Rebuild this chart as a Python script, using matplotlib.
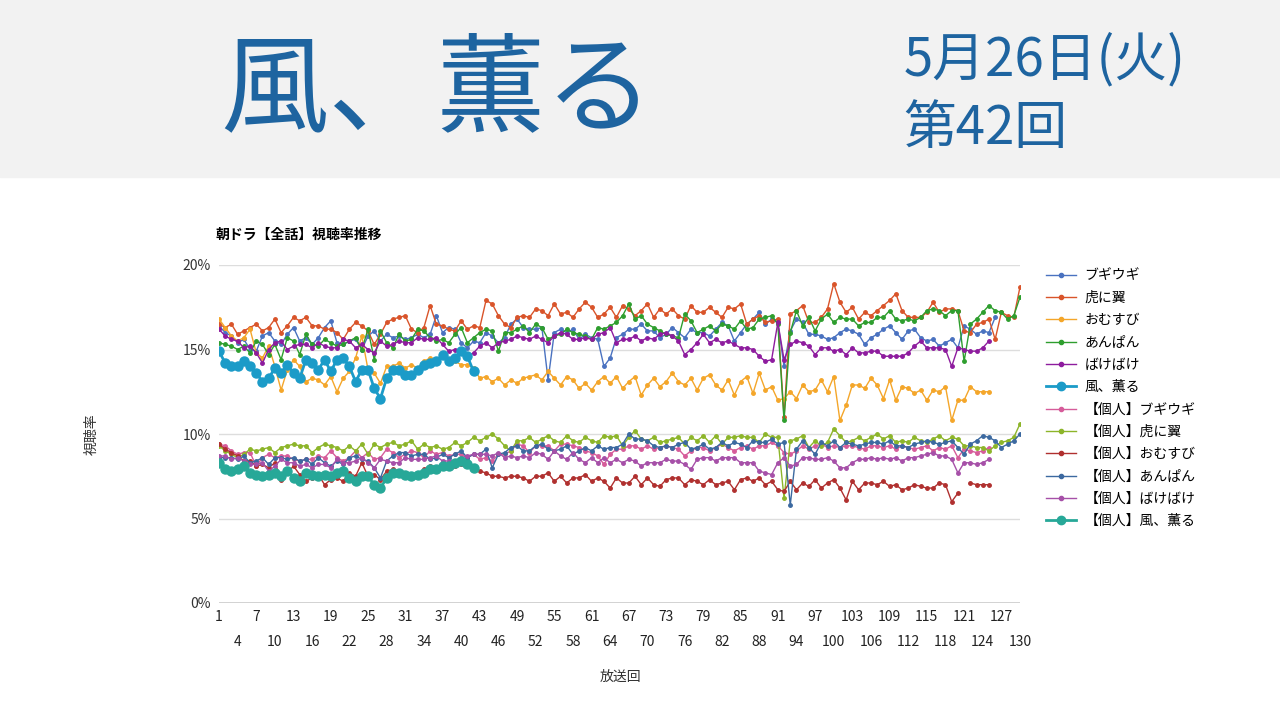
import matplotlib
matplotlib.use("Agg")
import matplotlib.pyplot as plt
import numpy as np
from matplotlib.lines import Line2D

plt.rcParams['font.family'] = ['Noto Sans CJK JP', 'DejaVu Sans']
nan = np.nan

tora = [16.5,16.3,16.5,15.9,16.1,16.3,16.5,16.1,16.3,16.8,
16.0,16.4,16.9,16.7,16.9,16.4,16.4,16.2,16.2,16.0,
15.6,16.2,16.6,16.4,16.1,15.3,15.9,16.6,16.8,16.9,
17.0,16.2,16.0,16.3,17.6,16.5,16.4,16.2,16.1,16.7,
16.2,16.4,16.3,17.9,17.7,17.0,16.5,16.3,16.9,17.0,
16.9,17.4,17.3,17.0,17.7,17.1,17.2,16.9,17.4,17.8,
17.5,16.9,17.1,17.5,16.9,17.6,17.4,17.0,17.3,17.7,
16.9,17.4,17.1,17.4,17.0,16.8,17.6,17.2,17.2,17.5,
17.2,16.9,17.5,17.4,17.7,16.5,16.8,17.0,16.6,16.7,
16.8,11.0,17.1,17.3,17.6,16.6,16.6,16.9,17.4,18.9,
17.8,17.2,17.5,16.8,17.2,17.0,17.3,17.6,17.9,18.3,
17.3,16.9,16.9,16.9,17.2,17.8,17.2,17.4,17.4,17.3,
16.1,16.0,16.5,16.6,16.8,15.6,17.2,17.0,16.9,18.7]

boogie = [16.4,16.0,15.8,15.4,15.6,15.0,14.9,15.8,16.0,15.5,
15.3,15.9,16.3,15.5,15.7,15.3,15.7,16.3,16.7,15.4,
15.3,15.5,15.6,15.0,15.8,16.1,15.5,15.9,15.7,15.8,
15.6,15.7,15.9,15.7,15.9,17.0,16.0,16.3,16.2,15.4,
15.1,15.5,15.4,16.0,15.8,15.4,15.7,16.5,16.8,16.3,
16.2,16.2,16.3,13.2,16.0,16.2,16.0,16.2,15.6,15.9,
15.7,15.6,14.0,14.5,15.7,15.9,16.2,16.2,16.5,16.1,
16.1,15.7,15.9,16.3,16.0,15.7,16.2,16.0,16.0,15.8,
16.2,16.6,16.4,15.5,16.0,16.5,16.8,17.2,16.5,16.8,
16.6,14.0,16.1,16.8,16.6,15.9,15.9,15.8,15.6,15.7,
16.0,16.2,16.1,15.9,15.3,15.7,15.9,16.2,16.4,16.0,
15.6,16.1,16.2,15.7,15.5,15.6,15.2,15.4,15.6,15.1,
16.4,16.2,15.9,16.1,16.0,16.9]

omusubi = [16.8,16.3,15.8,15.5,15.7,16.2,14.8,14.5,15.2,14.0,
12.6,13.8,14.4,14.0,13.1,13.3,13.2,12.9,13.4,12.5,
13.3,13.7,14.5,15.8,13.8,13.6,13.0,14.0,14.0,14.2,
13.9,14.1,13.9,14.3,14.5,14.3,14.6,14.3,14.3,14.1,
14.1,13.9,13.3,13.4,13.1,13.3,12.9,13.2,13.0,13.3,
13.4,13.5,13.2,13.7,13.3,12.9,13.4,13.2,12.7,13.0,
12.6,13.1,13.4,13.0,13.4,12.7,13.1,13.4,12.3,12.9,
13.3,12.8,13.1,13.6,13.1,12.9,13.3,12.6,13.3,13.5,
12.9,12.6,13.2,12.3,13.1,13.4,12.4,13.6,12.6,12.8,
12.0,12.1,12.5,12.1,12.9,12.5,12.6,13.2,12.5,13.4,
10.8,11.7,12.9,12.9,12.7,13.3,12.9,12.1,13.2,12.0,
12.8,12.7,12.4,12.6,12.0,12.6,12.5,12.8,10.8,12.0,
12.0,12.8,12.5,12.5,12.5]

anpan = [15.4,15.3,15.2,15.0,15.2,14.8,15.5,15.3,14.7,15.3,
14.4,15.7,15.5,14.7,15.9,15.3,15.2,15.6,15.4,15.2,
15.3,15.5,15.7,15.0,16.2,14.4,16.1,15.4,15.1,15.9,
15.5,15.6,16.2,16.1,15.7,15.5,15.6,15.4,15.9,16.3,
15.4,15.7,16.0,16.2,16.1,14.9,16.0,16.0,16.2,16.4,
16.0,16.5,16.3,15.6,15.8,15.9,16.2,16.0,15.9,15.8,
15.6,16.3,16.2,16.4,16.6,17.0,17.7,16.8,17.0,16.5,
16.3,16.1,15.9,15.8,15.7,17.1,16.7,16.0,16.2,16.4,
16.1,16.5,16.4,16.2,16.7,16.2,16.3,16.8,16.9,17.0,
16.5,10.8,16.0,17.3,16.4,16.9,16.1,16.8,17.1,16.6,
16.9,16.8,16.8,16.4,16.6,16.6,16.9,16.9,17.3,16.8,
16.7,16.8,16.7,16.9,17.3,17.4,17.3,17.0,17.3,17.3,
14.3,16.5,16.8,17.2,17.6,17.3,17.2,16.8,17.0,18.1]

bake = [16.2,15.8,15.6,15.5,15.1,15.2,14.8,14.2,15.0,15.4,
15.5,15.0,15.2,15.3,15.3,15.1,15.4,15.2,15.1,15.1,
15.6,15.5,15.1,15.3,15.0,14.8,15.5,15.2,15.3,15.5,
15.4,15.4,15.7,15.6,15.6,15.7,15.3,14.9,15.0,14.8,
14.6,14.8,15.2,15.4,15.1,15.4,15.5,15.6,15.8,15.7,
15.6,15.8,15.6,15.4,15.8,16.0,15.9,15.6,15.6,15.7,
15.6,15.9,16.0,16.3,15.4,15.6,15.6,15.8,15.5,15.7,
15.6,15.9,16.0,15.8,15.5,14.7,15.0,15.4,15.9,15.4,
15.6,15.4,15.5,15.3,15.1,15.1,15.0,14.6,14.3,14.4,
16.6,14.4,15.3,15.5,15.4,15.2,14.7,15.1,15.1,14.9,
15.0,14.7,15.1,14.8,14.8,14.9,14.9,14.6,14.6,14.6,
14.6,14.8,15.2,15.5,15.1,15.1,15.1,15.0,14.0,15.1,
15.0,14.9,14.9,15.1,15.5]

kaoru = [14.9,14.2,14.0,14.0,14.3,14.0,13.6,13.1,13.3,13.9,
13.6,14.1,13.6,13.3,14.4,14.2,13.8,14.4,13.7,14.4,
14.5,14.0,13.1,13.8,13.8,12.7,12.1,13.3,13.8,13.8,
13.5,13.5,13.8,14.1,14.2,14.3,14.7,14.3,14.5,14.9,
14.6,13.7]

i_boogie = [9.4,9.3,9.0,8.8,8.9,8.9,8.1,8.6,8.8,8.6,
8.7,8.7,8.5,8.4,8.5,8.5,8.7,8.6,9.0,8.6,
8.4,8.6,9.0,8.6,8.9,8.5,8.6,9.1,8.9,8.6,
8.8,9.0,8.9,8.6,9.0,8.8,8.9,8.7,8.8,8.8,
8.6,8.8,8.5,8.6,8.4,8.8,8.8,9.0,9.4,9.3,
8.9,9.3,9.3,9.3,9.0,9.4,9.4,9.3,9.2,9.0,
8.9,8.7,8.2,8.8,9.1,9.1,9.3,9.3,9.1,9.3,
9.1,9.2,9.3,9.2,9.1,8.7,9.0,9.2,9.2,9.0,
9.2,9.4,9.2,9.0,9.2,9.3,9.1,9.3,9.3,9.5,
9.3,8.9,8.8,9.0,9.3,9.1,9.3,9.4,9.2,9.3,
9.2,9.3,9.3,9.2,9.1,9.3,9.3,9.2,9.3,9.1,
9.3,9.2,9.1,9.2,9.3,9.0,9.2,9.1,9.3,8.6,
9.1,9.0,8.9,9.0,9.2]

i_tora = [9.3,9.0,8.8,8.6,8.8,9.1,9.0,9.1,9.2,8.9,
9.2,9.3,9.4,9.3,9.3,8.9,9.2,9.4,9.3,9.2,
9.0,9.3,9.0,9.4,8.8,9.4,9.2,9.4,9.5,9.3,
9.4,9.6,9.1,9.4,9.2,9.3,9.1,9.2,9.5,9.3,
9.5,9.8,9.6,9.8,10.0,9.7,9.3,9.0,9.6,9.6,
9.8,9.5,9.7,9.9,9.6,9.5,9.9,9.6,9.5,9.8,
9.6,9.5,9.9,9.8,9.9,9.3,9.8,10.2,9.7,9.6,
9.8,9.5,9.6,9.7,9.8,9.4,9.8,9.6,9.9,9.5,
9.9,9.4,9.8,9.8,9.9,9.8,9.8,9.5,10.0,9.8,
9.8,6.2,9.6,9.7,9.9,9.2,9.6,9.3,9.5,10.3,
9.9,9.5,9.6,9.8,9.6,9.8,10.0,9.7,9.9,9.5,
9.6,9.5,9.8,9.6,9.5,9.7,9.9,9.6,9.8,9.7,
9.3,9.3,9.2,9.2,9.0,9.3,9.5,9.6,9.8,10.6]

i_omusubi = [9.4,9.1,8.9,8.7,8.4,8.4,8.1,8.2,8.0,8.3,
7.3,7.7,8.1,7.6,7.2,7.4,7.6,7.0,7.3,7.4,
7.2,7.7,7.5,8.3,7.5,7.6,7.3,7.8,7.9,7.8,
7.7,7.5,7.6,7.9,8.1,7.9,8.2,8.0,8.1,8.2,
8.3,8.1,7.8,7.7,7.5,7.5,7.4,7.5,7.5,7.4,
7.2,7.5,7.5,7.7,7.2,7.5,7.1,7.4,7.4,7.6,
7.2,7.4,7.2,6.8,7.4,7.1,7.1,7.5,7.0,7.4,
7.0,6.9,7.3,7.4,7.4,7.0,7.3,7.2,7.0,7.3,
7.0,7.1,7.2,6.7,7.3,7.4,7.2,7.4,7.0,7.2,
6.7,6.6,7.2,6.7,7.1,6.9,7.3,6.8,7.1,7.3,
6.8,6.1,7.2,6.7,7.1,7.1,7.0,7.2,6.9,7.0,
6.7,6.8,7.0,6.9,6.8,6.8,7.1,7.0,6.0,6.5,
nan,7.1,7.0,7.0,7.0]

i_anpan = [8.6,8.6,8.6,8.5,8.7,8.3,8.4,8.6,8.2,8.6,
8.6,8.5,8.6,8.4,8.5,8.2,8.6,8.3,8.1,8.4,
8.2,8.6,8.7,8.5,8.4,8.0,7.4,8.4,8.7,8.9,
8.9,8.7,8.8,8.8,8.5,8.6,8.8,8.6,8.8,9.0,
8.6,8.8,8.8,9.1,8.0,8.8,8.9,9.2,9.3,9.0,
9.0,9.3,9.4,9.1,9.0,9.1,9.3,8.8,9.0,9.2,
9.0,9.3,9.1,9.2,9.2,9.4,10.0,9.7,9.7,9.6,
9.3,9.2,9.3,9.2,9.4,9.5,9.1,9.2,9.4,9.1,
9.2,9.5,9.3,9.5,9.4,9.2,9.6,9.5,9.5,9.7,
9.4,9.5,5.8,9.1,9.6,9.2,8.8,9.5,9.3,9.6,
9.2,9.5,9.4,9.3,9.4,9.5,9.5,9.4,9.6,9.3,
9.3,9.2,9.4,9.5,9.6,9.5,9.4,9.5,9.6,9.2,
8.8,9.4,9.6,9.9,9.8,9.6,9.2,9.4,9.6,10.0]

i_bake = [8.7,8.7,8.5,8.6,8.4,8.2,8.2,8.3,7.8,8.1,
8.5,8.3,8.3,8.1,8.2,8.0,8.2,8.2,8.0,8.5,
8.3,8.3,8.4,8.6,8.3,8.0,8.5,8.4,8.3,8.3,
8.6,8.5,8.5,8.5,8.6,8.7,8.4,8.4,8.4,8.6,
8.7,8.8,8.8,8.8,8.7,8.9,8.6,8.7,8.6,8.7,
8.6,8.9,8.8,8.5,9.0,8.7,8.5,8.9,8.5,8.3,
8.6,8.3,8.6,8.3,8.5,8.3,8.5,8.4,8.1,8.3,
8.3,8.3,8.5,8.4,8.4,8.2,7.9,8.5,8.6,8.6,
8.4,8.6,8.6,8.6,8.3,8.3,8.3,7.8,7.7,7.6,
8.3,8.6,8.1,8.2,8.6,8.6,8.5,8.5,8.6,8.4,
8.0,8.0,8.3,8.5,8.5,8.6,8.5,8.6,8.5,8.6,
8.4,8.6,8.6,8.7,8.8,8.9,8.7,8.7,8.5,7.7,
8.3,8.3,8.2,8.3,8.5]

i_kaoru = [8.3,7.9,7.8,7.9,8.1,7.7,7.6,7.5,7.6,7.7,
7.5,7.8,7.4,7.2,7.7,7.6,7.5,7.6,7.5,7.7,
7.8,7.4,7.2,7.5,7.5,7.0,6.8,7.4,7.7,7.7,
7.6,7.5,7.6,7.7,7.9,7.9,8.1,8.1,8.3,8.4,
8.2,8.0]

series = [
    ("ブギウギ", boogie, "#4a72c0", False),
    ("虎に翼", tora, "#d9542a", False),
    ("おむすび", omusubi, "#f4a62a", False),
    ("あんぱん", anpan, "#2e9e2e", False),
    ("ばけばけ", bake, "#8e1c9e", False),
    ("風、薫る", kaoru, "#1b9bc8", True),
    ("【個人】ブギウギ", i_boogie, "#d65c9a", False),
    ("【個人】虎に翼", i_tora, "#8db52a", False),
    ("【個人】おむすび", i_omusubi, "#b0302f", False),
    ("【個人】あんぱん", i_anpan, "#3c69a0", False),
    ("【個人】ばけばけ", i_bake, "#a650a8", False),
    ("【個人】風、薫る", i_kaoru, "#27a898", True),
]

fig = plt.figure(figsize=(12.8, 7.2), dpi=100)
fig.patches.append(plt.Rectangle((0, 1 - 177/720), 1, 177/720, transform=fig.transFigure,
                                 color="#f2f2f2", zorder=0))
fig.text(0.172, 0.872, "風、薫る", fontsize=78, color="#1e64a0", va="center", ha="left")
fig.text(0.706, 0.917, "5月26日(火)", fontsize=38, color="#1e64a0", va="center", ha="left")
fig.text(0.706, 0.822, "第42回", fontsize=38, color="#1e64a0", va="center", ha="left")

ax = fig.add_axes([219/1280, 1 - 603/720, (1020-219)/1280, (603-265)/720])
handles = []
for name, vals, col, big in series:
    x = np.arange(1, len(vals) + 1)
    if big:
        ax.plot(x, vals, color=col, lw=2, marker="o", ms=6.5, zorder=5)
    else:
        ax.plot(x, vals, color=col, lw=1, marker="o", ms=2.5, zorder=3)
    handles.append(Line2D([], [], color=col, lw=2 if big else 1, marker="o", ms=6 if big else 3))

ax.set_xlim(1, 130)
ax.set_ylim(0, 20)
ax.set_yticks([0, 5, 10, 15, 20])
ax.set_yticklabels(["0%", "5%", "10%", "15%", "20%"], fontsize=10, color="#333333")
top_ticks = list(range(1, 131, 6))
bot_ticks = list(range(4, 131, 6))
ax.set_xticks(top_ticks)
ax.set_xticklabels([str(t) for t in top_ticks], fontsize=10, color="#222222")
ax.set_xticks(bot_ticks, minor=True)
ax.set_xticklabels([str(t) for t in bot_ticks], minor=True, fontsize=10, color="#222222")
ax.tick_params(axis="x", which="major", length=0, pad=5)
ax.tick_params(axis="x", which="minor", length=0, pad=23)
ax.tick_params(axis="y", length=0, pad=6)
ax.grid(axis="y", color="#dddddd", lw=1)
for s in ax.spines.values():
    s.set_visible(False)
ax.axhline(0, color="#cccccc", lw=1.2)
ax.set_axisbelow(True)

fig.text(216/1280, 1 - 235/720, "朝ドラ【全話】視聴率推移", fontsize=10, fontweight="bold", va="center")
fig.text(92/1280, 1 - 434/720, "視聴率", fontsize=10, style="italic", rotation=90, va="center", ha="center", color="#333333")
fig.text(620/1280, 1 - 677/720, "放送回", fontsize=10, style="italic", va="center", ha="center", color="#333333")

fig.legend(handles, [s[0] for s in series], loc="upper left", bbox_to_anchor=(1033/1280, 1 - 256/720),
           frameon=False, fontsize=10, handlelength=2.2, labelspacing=0.6, handletextpad=0.6)

fig.savefig("out.png", dpi=100)
